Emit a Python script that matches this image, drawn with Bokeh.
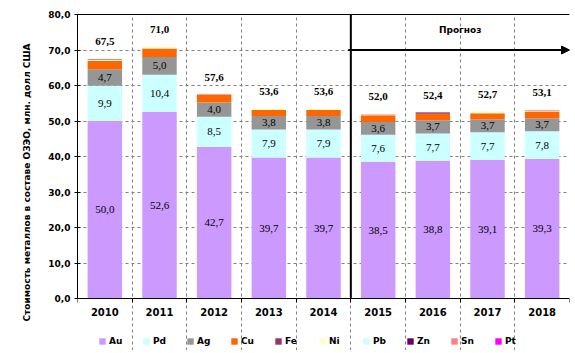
import numpy as np
from bokeh.plotting import figure
from bokeh.models import (ColumnDataSource, FixedTicker, LinearAxis, Arrow,
                          NormalHead, Label, LabelSet, Legend, LegendItem)
from bokeh.embed import file_html
from bokeh.resources import INLINE

# ---- data ----
years = ["2010", "2011", "2012", "2013", "2014", "2015", "2016", "2017", "2018"]
Au = [50.0, 52.6, 42.7, 39.7, 39.7, 38.5, 38.8, 39.1, 39.3]
Pd = [9.9, 10.4, 8.5, 7.9, 7.9, 7.6, 7.7, 7.7, 7.8]
Ag = [4.7, 5.0, 4.0, 3.8, 3.8, 3.6, 3.7, 3.7, 3.7]
Cu = [2.3, 2.4, 2.1, 1.7, 1.7, 1.9, 1.9, 1.7, 1.9]
Fe = [0.0, 0.0, 0.0, 0.0, 0.0, 0.0, 0.0, 0.0, 0.0]
Ni = [0.3, 0.6, 0.1, 0.5, 0.5, 0.2, 0.0, 0.5, 0.2]
Pb = [0.0, 0.0, 0.0, 0.0, 0.0, 0.0, 0.0, 0.0, 0.0]
Zn = [0.0, 0.0, 0.0, 0.0, 0.0, 0.0, 0.3, 0.0, 0.0]
Sn = [0.3, 0.0, 0.2, 0.0, 0.0, 0.2, 0.0, 0.0, 0.2]
Pt = [0.0, 0.0, 0.0, 0.0, 0.0, 0.0, 0.0, 0.0, 0.0]
series_names = ["Au", "Pd", "Ag", "Cu", "Fe", "Ni", "Pb", "Zn", "Sn", "Pt"]
y_ticks = [0, 10, 20, 30, 40, 50, 60, 70, 80]
forecast_text = "Прогноз"
y_title = "Стоимость металлов в составе ОЗЭО, млн. долл США"

colors = ["#CC99FF", "#CCFFFF", "#969696", "#FF6600", "#993366",
          "#FFFFCC", "#CCFFFF", "#660066", "#FF8080", "#FF00FF"]

FONT = "DejaVu Sans"
fmt = lambda v: f"{v:.1f}".replace(".", ",")

series = [Au, Pd, Ag, Cu, Fe, Ni, Pb, Zn, Sn, Pt]
n = len(years)
xs = list(range(n))
data = {"x": xs}
for name, vals in zip(series_names, series):
    data[name] = vals
src = ColumnDataSource(data)

# frame extends below the value axis so the legend can sit inside it
ymin_v, ymax_v = y_ticks[0], y_ticks[-1]
FRAME_H = 336          # px
PLOT_H = 284           # px for the 0..80 part
y_lo = ymax_v - (ymax_v - ymin_v) * FRAME_H / PLOT_H

p = figure(frame_width=492, frame_height=FRAME_H, x_range=(-0.5, n - 0.5), y_range=(y_lo, ymax_v),
           output_backend="svg", toolbar_location=None,
           min_border_left=77, min_border_right=6, min_border_top=14, min_border_bottom=0)
p.outline_line_color = None
p.background_fill_color = "white"

rends = p.vbar_stack(series_names, x="x", width=0.63, color=colors, line_color=None, source=src)

# axes
xa = p.xaxis[0]
xa.fixed_location = ymin_v
xa.ticker = FixedTicker(ticks=xs, minor_ticks=[i - 0.5 for i in range(n + 1)])
xa.major_label_overrides = {i: y for i, y in enumerate(years)}
xa.major_tick_line_color = None
xa.major_tick_out = 0
xa.major_tick_in = 0
xa.minor_tick_in = 0
xa.minor_tick_out = 4
xa.minor_tick_line_color = "black"
xa.axis_line_color = "black"
xa.major_label_text_font = FONT
xa.major_label_text_font_style = "bold"
xa.major_label_text_font_size = "10px"
xa.major_label_text_color = "black"
xa.major_label_standoff = 5

ya = p.yaxis[0]
ya.bounds = (ymin_v, ymax_v)
ya.ticker = FixedTicker(ticks=y_ticks)
ya.major_label_overrides = {t: fmt(t) for t in y_ticks}
ya.major_tick_in = 3
ya.major_tick_out = 3
ya.minor_tick_line_color = None
ya.axis_line_color = "black"
ya.major_label_text_font = FONT
ya.major_label_text_font_style = "bold"
ya.major_label_text_font_size = "9px"
ya.major_label_text_color = "black"
ya.major_label_standoff = 4

# title-only axis, centred on the whole frame height
ytitle_axis = LinearAxis(ticker=FixedTicker(ticks=[]), axis_line_color=None,
                         major_tick_line_color=None, minor_tick_line_color=None,
                         major_label_text_font_size="0px",
                         axis_label=y_title, axis_label_text_font=FONT,
                         axis_label_text_font_style="bold", axis_label_text_font_size="9px",
                         axis_label_text_color="black", axis_label_standoff=14)
p.add_layout(ytitle_axis, "left")

top = LinearAxis(ticker=FixedTicker(ticks=[]), major_label_text_font_size="0px",
                 axis_line_color="black", major_tick_line_color=None, minor_tick_line_color=None)
p.add_layout(top, "above")

# grids
p.ygrid.ticker = FixedTicker(ticks=y_ticks)
p.ygrid.grid_line_color = "#808080"
p.ygrid.grid_line_dash = "3 3"
p.xgrid.ticker = FixedTicker(ticks=[i + 0.5 for i in range(n - 1)])
p.xgrid.bounds = (ymin_v, ymax_v)
p.xgrid.grid_line_color = "#808080"
p.xgrid.grid_line_dash = "3 3"

# segment labels for Au, Pd, Ag
lx, ly, lt = [], [], []
base = np.zeros(n)
for name, vals in zip(series_names, series):
    v = np.array(vals)
    if name in ("Au", "Pd", "Ag"):
        for i in range(n):
            lx.append(i); ly.append(base[i] + v[i] / 2); lt.append(fmt(v[i]))
    base = base + v
totals = [round(float(t), 1) for t in base]
seg_src = ColumnDataSource(dict(x=lx, y=ly, t=lt))
p.add_layout(LabelSet(x="x", y="y", text="t", source=seg_src, text_align="center",
                      text_baseline="middle", text_font=FONT, text_font_size="11px",
                      text_color="black"))
tot_src = ColumnDataSource(dict(x=xs, y=totals, t=[fmt(t) for t in totals]))
p.add_layout(LabelSet(x="x", y="y", text="t", source=tot_src, text_align="center",
                      text_baseline="middle", y_offset=17, text_font=FONT,
                      text_font_size="11px", text_font_style="bold", text_color="black"))

# forecast marker
split = 4.5
p.segment(x0=[split], y0=[ymin_v], x1=[split], y1=[ymax_v], line_color="black", line_width=2)
p.add_layout(Arrow(x_start=split - 0.05, y_start=70, x_end=n - 0.5, y_end=70,
                   line_color="black", line_width=2,
                   end=NormalHead(size=8, fill_color="black", line_color="black")))
p.add_layout(Label(x=(split + n - 0.5) / 2, y=75.5, text=forecast_text, text_align="center",
                   text_baseline="middle", text_font=FONT, text_font_size="9px",
                   text_font_style="bold", text_color="black"))

legend = Legend(items=[LegendItem(label=nm, renderers=[r]) for nm, r in zip(series_names, rends)],
                orientation="horizontal", location=(21, 4), glyph_width=8, glyph_height=8,
                label_standoff=3, label_width=30, label_height=10, spacing=3, padding=2, margin=0,
                label_text_font=FONT, label_text_font_style="bold", label_text_font_size="9px",
                label_text_color="black", border_line_color=None, background_fill_alpha=0)
p.add_layout(legend, "center")

open("out.html", "w").write(file_html(p, INLINE))
